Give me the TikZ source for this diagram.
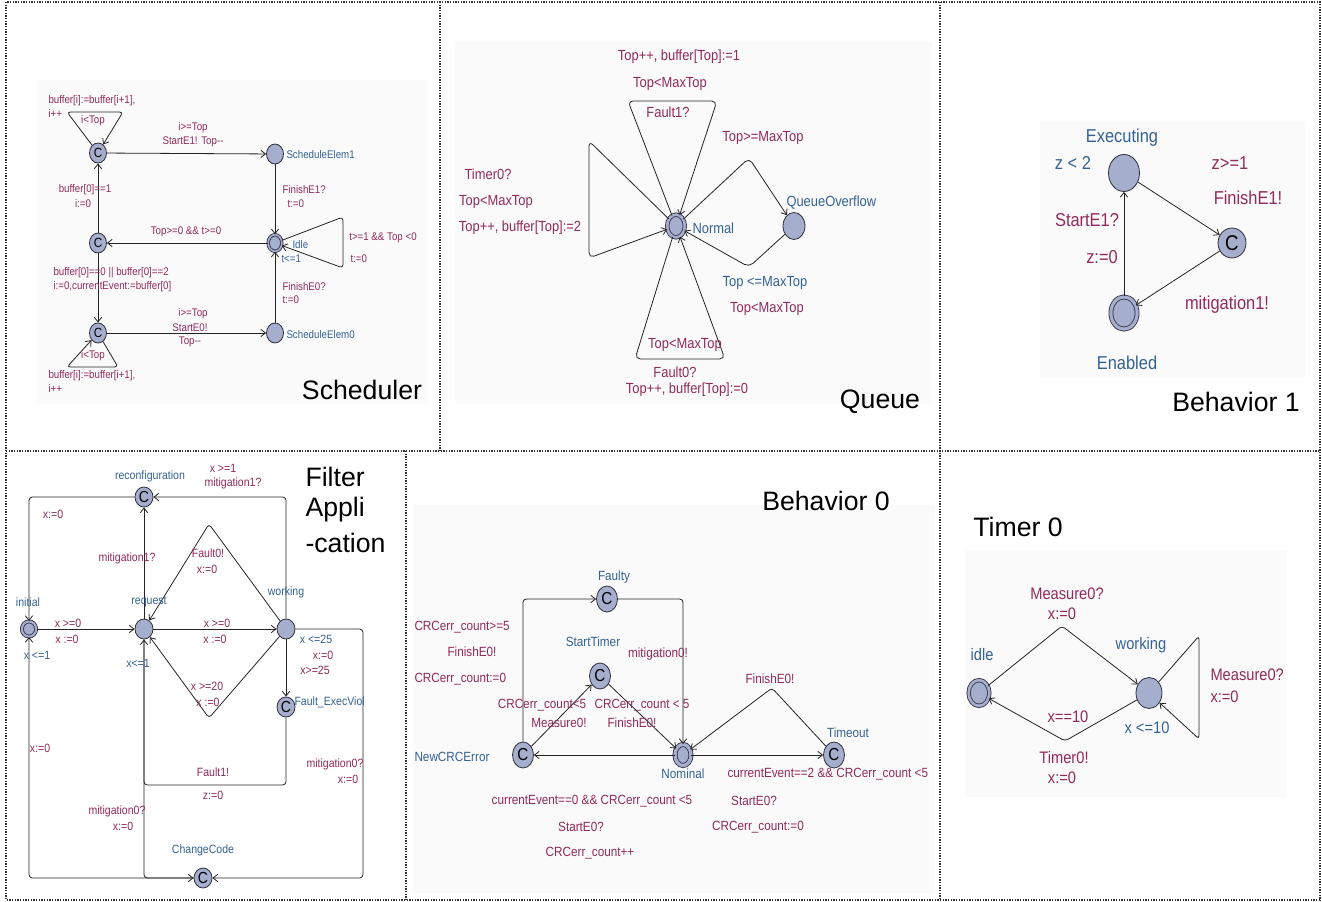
\documentclass[tikz,border=0pt]{standalone}
\usepackage{fontspec}
\setmainfont{Liberation Sans}
\newfontfamily\uppfont{Liberation Sans}[FakeStretch=0.88]
\usetikzlibrary{shapes.geometric,arrows.meta}

\definecolor{lblcol}{RGB}{145,42,92}
\definecolor{nmcol}{RGB}{52,98,148}
\definecolor{locfill}{RGB}{166,174,206}
\definecolor{locline}{RGB}{45,45,60}
\definecolor{edgecol}{RGB}{35,35,35}

\tikzset{every picture/.style={line width=0.75pt}}
\tikzset{
  loc/.style={ellipse, draw=locline, fill=locfill, line width=0.6pt, inner sep=0pt},
  initloc/.style={loc, double=locfill, double distance=1.2pt},
  lbl/.style={text=lblcol, inner sep=0.75pt},
  nm/.style={text=nmcol, inner sep=0.75pt},
  tr/.style={draw=edgecol, line width=0.6pt, rounded corners=2.5pt, -{Straight Barb[length=3.5pt,width=5.5pt]}},
  title/.style={inner sep=0pt, font=\fontsize{20}{24}\selectfont},
  panel/.style={draw=black!80, line width=1pt, densely dotted},
  shot/.style={fill=black!2, draw=none},
}

\begin{document}
\begin{tikzpicture}[x=0.75pt,y=0.75pt,yscale=-1,xscale=1]
\useasboundingbox (0,0) rectangle (1322,902);

% screenshot backgrounds
\fill[shot] (36,80) rectangle (428,404);
\fill[shot] (455,42) rectangle (932,404);
\fill[shot] (1040,122) rectangle (1305,378);
\fill[shot] (413,505) rectangle (935,893);
\fill[shot] (965,550) rectangle (1287,797);

% panel frame
\draw[panel] (6,2) rectangle (1320,900);
\draw[panel] (440,2) -- (440,451);
\draw[panel] (940,2) -- (940,900);
\draw[panel] (6,451) -- (1320,451);
\draw[panel] (406,451) -- (406,900);

% Scheduler
\begin{scope}[font=\uppfont\fontsize{8.3}{10}\selectfont,
  loc/.append style={minimum width=12.75pt,minimum height=15pt,font=\uppfont\fontsize{10}{12}\selectfont},
  initloc/.append style={minimum width=10.25pt,minimum height=12.5pt,double distance=1.3pt}]
  \node[loc] (s-c1) at (98,153) {C};
  \node[loc] (s-c2) at (98,243) {C};
  \node[loc] (s-c3) at (98,333) {C};
  \node[loc] (s-elem1) at (275,154) {};
  \node[initloc] (s-idle) at (275,243) {};
  \node[loc] (s-elem0) at (275,333) {};

  \draw[tr] (s-c1) -- (s-elem1);
  \draw[tr] (s-elem1) -- (s-idle);
  \draw[tr] (s-idle) -- (s-c2);
  \draw[tr] (s-c2) -- (s-c1);
  \draw[tr] (s-c2) -- (s-c3);
  \draw[tr] (s-c3) -- (s-elem0);
  \draw[tr] (s-elem0) -- (s-idle);
  \draw[tr] (s-c1) -- (67,112) -- (123,112) -- (s-c1);
  \draw[tr] (s-c3) -- (118,367) -- (67,367) -- (s-c3);
  \draw[tr] (s-idle) -- (343,217) -- (343,268) -- (s-idle);

  \node[nm, anchor=west] (s-n1) at (285,155) {ScheduleElem1};
  \node[nm, anchor=west] (s-n0) at (285,335) {ScheduleElem0};
  \node[nm, anchor=west] (s-nidle) at (291,245) {Idle};
  \node[nm, anchor=west] (s-inv) at (280,259) {t<=1};

  \node[lbl] (s-g1) at (193,128) {i>=Top};
  \node[lbl] (s-a1) at (193,142) {StartE1! Top-{}-};
  \node[lbl, anchor=west] (s-f1) at (281,190) {FinishE1?};
  \node[lbl, anchor=west] (s-t1) at (286,204) {t:=0};
  \node[lbl] (s-g2) at (186,232) {Top>=0 \&\& t>=0};
  \node[lbl] (s-g3) at (85,190) {buffer[0]==1};
  \node[lbl] (s-a3) at (83,204) {i:=0};
  \node[lbl, anchor=west] (s-g4) at (52,273) {buffer[0]==0 || buffer[0]==2};
  \node[lbl, anchor=west] (s-a4) at (52,287) {i:=0,currentEvent:=buffer[0]};
  \node[lbl] (s-g5) at (193,314) {i>=Top};
  \node[lbl] (s-a5) at (190,328) {StartE0!};
  \node[lbl] (s-b5) at (190,342) {Top-{}-};
  \node[lbl, anchor=west] (s-f0) at (281,287) {FinishE0?};
  \node[lbl, anchor=west] (s-t0) at (281,300) {t:=0};
  \node[lbl] (s-g6) at (383,238) {t>=1 \&\& Top <0};
  \node[lbl, anchor=west] (s-a6) at (349,259) {t:=0};
  \node[lbl] (s-g7) at (93,121) {i<Top};
  \node[lbl, anchor=west] (s-a7) at (47,101) {buffer[i]:=buffer[i+1],};
  \node[lbl, anchor=west] (s-b7) at (47,113) {i++};
  \node[lbl] (s-g8) at (93,356) {i<Top};
  \node[lbl, anchor=west] (s-a8) at (47,376) {buffer[i]:=buffer[i+1],};
  \node[lbl, anchor=west] (s-b8) at (47,388) {i++};

  \node[title] (s-title) at (362,390) {Scheduler};
\end{scope}

% Queue
\begin{scope}[font=\uppfont\fontsize{11}{13}\selectfont, tr/.append style={rounded corners=4pt},
  loc/.append style={minimum width=16.5pt,minimum height=20.25pt},
  initloc/.append style={minimum width=13.3pt,minimum height=17.05pt,double distance=2pt}]
  \node[initloc] (q-normal) at (676,226) {};
  \node[loc] (q-over) at (794,226) {};

  \draw[tr] (q-normal) -- (628,101) -- (717,101) -- (q-normal);
  \draw[tr] (q-normal) -- (589,141) -- (589,258) -- (q-normal);
  \draw[tr] (q-normal) -- (635,359) -- (725,359) -- (q-normal);
  \draw[tr] (q-normal) -- (749,158) -- (q-over);
  \draw[tr] (q-over) -- (749,267) -- (q-normal);

  \node[nm, anchor=west] (q-n1) at (691,228) {Normal};
  \node[nm, anchor=west] (q-n2) at (785,203) {QueueOverflow};

  \node[lbl] (q-a1) at (679,57) {Top++, buffer[Top]:=1};
  \node[lbl] (q-g1) at (670,84) {Top<MaxTop};
  \node[lbl] (q-s1) at (668,112) {Fault1?};
  \node[lbl] (q-g2) at (763,138) {Top>=MaxTop};
  \node[lbl] (q-s3) at (488,174) {Timer0?};
  \node[lbl] (q-g3) at (496,202) {Top<MaxTop};
  \node[lbl] (q-a3) at (520,228) {Top++, buffer[Top]:=2};
  \node[nm] (q-i4) at (765,283) {Top <=MaxTop};
  \node[lbl] (q-g4) at (767,309) {Top<MaxTop};
  \node[lbl] (q-g5) at (685,345) {Top<MaxTop};
  \node[lbl] (q-s5) at (675,372) {Fault0?};
  \node[lbl] (q-a5) at (687,390) {Top++, buffer[Top]:=0};

  \node[title] (q-title) at (880,402) {Queue};
\end{scope}

% Behavior 1
\begin{scope}[font=\uppfont\fontsize{14}{16}\selectfont,
  loc/.append style={minimum width=23.25pt,minimum height=27.75pt,font=\uppfont\fontsize{16}{18}\selectfont},
  initloc/.append style={minimum width=19.65pt,minimum height=24.15pt,double distance=2.4pt}]
  \node[loc] (b1-exec) at (1124,173) {};
  \node[loc, minimum width=21pt, minimum height=22.5pt] (b1-c) at (1232,243) {C};
  \node[initloc] (b1-en) at (1124,313) {};

  \draw[tr] (b1-en) -- (b1-exec);
  \draw[tr] (b1-exec) -- (b1-c);
  \draw[tr] (b1-c) -- (b1-en);

  \node[nm] (b1-n1) at (1122,138) {Executing};
  \node[nm] (b1-i1) at (1073,163) {z < 2};
  \node[nm] (b1-n2) at (1127,363) {Enabled};
  \node[lbl] (b1-g1) at (1230,163) {z>=1};
  \node[lbl] (b1-s1) at (1248,198) {FinishE1!};
  \node[lbl] (b1-s2) at (1087,220) {StartE1?};
  \node[lbl] (b1-a2) at (1102,257) {z:=0};
  \node[lbl] (b1-s3) at (1227,305) {mitigation1!};

  \node[title] (b1-title) at (1236,402) {Behavior 1};
\end{scope}

% Filter Application
\begin{scope}[font=\uppfont\fontsize{9}{11}\selectfont,
  loc/.append style={minimum width=13.5pt,minimum height=15pt,font=\uppfont\fontsize{12}{14}\selectfont},
  initloc/.append style={minimum width=10.65pt,minimum height=11.4pt,double distance=1.65pt}]
  \node[initloc] (f-init) at (29,629) {};
  \node[loc] (f-req) at (144,629) {};
  \node[loc] (f-work) at (286,629) {};
  \node[loc] (f-reconf) at (144,497) {C};
  \node[loc] (f-fev) at (286,707) {C};
  \node[loc] (f-change) at (203,878) {C};

  \draw[tr] (f-init) -- (f-req);
  \draw[tr] (f-req) -- (f-work);
  \draw[tr] (f-work) |- (f-reconf);
  \draw[tr] (f-reconf) -| (f-init);
  \draw[tr] (f-req) -- (f-reconf);
  \draw[tr] (f-work) -- (209,524) -- (f-req);
  \draw[tr] (f-work) -- (209,718) -- (f-req);
  \draw[tr] (f-work) -- (f-fev);
  \draw[tr] (f-fev) -- (286,785) -- (144,785) -- (f-req);
  \draw[tr] (f-work) -- (363,629) -- (363,878) -- (f-change);
  \draw[tr] (f-req) -- (144,878) -- (f-change);
  \draw[tr] (f-change) -- (29,878) -- (f-init);

  \node[nm] (f-n1) at (150,476) {reconfiguration};
  \node[nm] (f-n2) at (286,592) {working};
  \node[nm] (f-n3) at (28,602) {initial};
  \node[nm] (f-n4) at (149,602) {request};
  \node[nm, anchor=west] (f-n5) at (293,702) {Fault\_ExecViol};
  \node[nm] (f-n6) at (203,850) {ChangeCode};
  \node[nm] (f-i1) at (37,655) {x <=1};
  \node[nm] (f-i2) at (138,663) {x<=1};
  \node[nm] (f-i3) at (316,639) {x <=25};

  \node[lbl] (f-g1) at (223,468) {x >=1};
  \node[lbl] (f-s1) at (233,483) {mitigation1?};
  \node[lbl] (f-a2) at (53,514) {x:=0};
  \node[lbl] (f-s3) at (127,558) {mitigation1?};
  \node[lbl] (f-s4) at (208,553) {Fault0!};
  \node[lbl] (f-a4) at (207,569) {x:=0};
  \node[lbl] (f-g5) at (68,623) {x >=0};
  \node[lbl] (f-a5) at (67,639) {x :=0};
  \node[lbl] (f-g6) at (217,623) {x >=0};
  \node[lbl] (f-a6) at (215,639) {x :=0};
  \node[lbl] (f-a7) at (323,655) {x:=0};
  \node[lbl] (f-g7) at (315,670) {x>=25};
  \node[lbl] (f-g8) at (207,686) {x >=20};
  \node[lbl] (f-a8) at (208,702) {x :=0};
  \node[lbl] (f-a9) at (40,748) {x:=0};
  \node[lbl] (f-s10) at (213,772) {Fault1!};
  \node[lbl] (f-a10) at (213,795) {z:=0};
  \node[lbl] (f-s11) at (335,764) {mitigation0?};
  \node[lbl] (f-a11) at (348,779) {x:=0};
  \node[lbl] (f-s12) at (117,811) {mitigation0?};
  \node[lbl] (f-a12) at (123,826) {x:=0};

  \node[title, anchor=west] (f-title1) at (305,477) {Filter};
  \node[title, anchor=west] (f-title2) at (305,510) {Appli};
  \node[title, anchor=west] (f-title3) at (305,543) {-cation};
\end{scope}

% Behavior 0
\begin{scope}[font=\uppfont\fontsize{10}{12}\selectfont,
  loc/.append style={minimum width=15.75pt,minimum height=19.5pt,font=\uppfont\fontsize{13}{15}\selectfont},
  initloc/.append style={minimum width=12.05pt,minimum height=15.8pt,double distance=2.5pt}]
  \clip (406,451) rectangle (940,900);
  \node[loc] (b0-faulty) at (607,599) {C};
  \node[loc] (b0-start) at (600,676) {C};
  \node[loc] (b0-new) at (523,755) {C};
  \node[initloc] (b0-nom) at (683,755) {};
  \node[loc] (b0-timeout) at (834,755) {C};

  \draw[tr] (b0-new) |- (b0-faulty);
  \draw[tr] (b0-faulty) -| (b0-nom);
  \draw[tr] (b0-new) -- (b0-start);
  \draw[tr] (b0-start) -- (b0-nom);
  \draw[tr] (b0-nom) -- (b0-new);
  \draw[tr] (b0-nom) -- (b0-timeout);
  \draw[tr] (b0-timeout) -- (772,688) -- (b0-nom);

  \node[nm] (b0-n1) at (614,577) {Faulty};
  \node[nm] (b0-n2) at (593,642) {StartTimer};
  \node[nm] (b0-n3) at (452,757) {NewCRCError};
  \node[nm] (b0-n4) at (683,774) {Nominal};
  \node[nm] (b0-n5) at (848,733) {Timeout};

  \node[lbl, anchor=west] (b0-g1) at (413,627) {CRCerr\_count>=5};
  \node[lbl] (b0-s1) at (472,652) {FinishE0!};
  \node[lbl, anchor=west] (b0-a1) at (413,679) {CRCerr\_count:=0};
  \node[lbl] (b0-s2) at (658,654) {mitigation0!};
  \node[lbl] (b0-s3) at (770,679) {FinishE0!};
  \node[lbl] (b0-g4) at (542,705) {CRCerr\_count<5};
  \node[lbl] (b0-s4) at (559,723) {Measure0!};
  \node[lbl] (b0-g5) at (642,705) {CRCerr\_count < 5};
  \node[lbl] (b0-s5) at (632,723) {FinishE0!};
  \node[lbl, anchor=west] (b0-g6) at (726,774) {currentEvent==2 \&\& CRCerr\_count <5};
  \node[lbl] (b0-s6) at (754,801) {StartE0?};
  \node[lbl] (b0-a6) at (758,827) {CRCerr\_count:=0};
  \node[lbl] (b0-g7) at (592,801) {currentEvent==0 \&\& CRCerr\_count <5};
  \node[lbl] (b0-s7) at (581,827) {StartE0?};
  \node[lbl] (b0-a7) at (590,853) {CRCerr\_count++};

  \node[title] (b0-title) at (826,501) {Behavior 0};
\end{scope}

% Timer 0
\begin{scope}[font=\uppfont\fontsize{12.5}{14}\selectfont,
  loc/.append style={minimum width=19.5pt,minimum height=23.25pt},
  initloc/.append style={minimum width=15.55pt,minimum height=19.3pt,double distance=2pt}]
  \node[initloc] (t-idle) at (979,693) {};
  \node[loc] (t-work) at (1149,693) {};

  \draw[tr] (t-idle) -- (1062,626) -- (t-work);
  \draw[tr] (t-work) -- (1065,741) -- (t-idle);
  \draw[tr] (t-work) -- (1199,636) -- (1199,739) -- (t-work);

  \node[nm] (t-n1) at (982,655) {idle};
  \node[nm] (t-n2) at (1141,645) {working};
  \node[nm] (t-i2) at (1147,728) {x <=10};

  \node[lbl] (t-s1) at (1067,594) {Measure0?};
  \node[lbl] (t-a1) at (1062,614) {x:=0};
  \node[lbl] (t-g2) at (1068,717) {x==10};
  \node[lbl] (t-s2) at (1064,758) {Timer0!};
  \node[lbl] (t-a2) at (1062,778) {x:=0};
  \node[lbl, anchor=west] (t-s3) at (1209,675) {Measure0?};
  \node[lbl, anchor=west] (t-a3) at (1209,697) {x:=0};

  \node[title] (t-title) at (1018,527) {Timer 0};
\end{scope}

\end{tikzpicture}
\end{document}
